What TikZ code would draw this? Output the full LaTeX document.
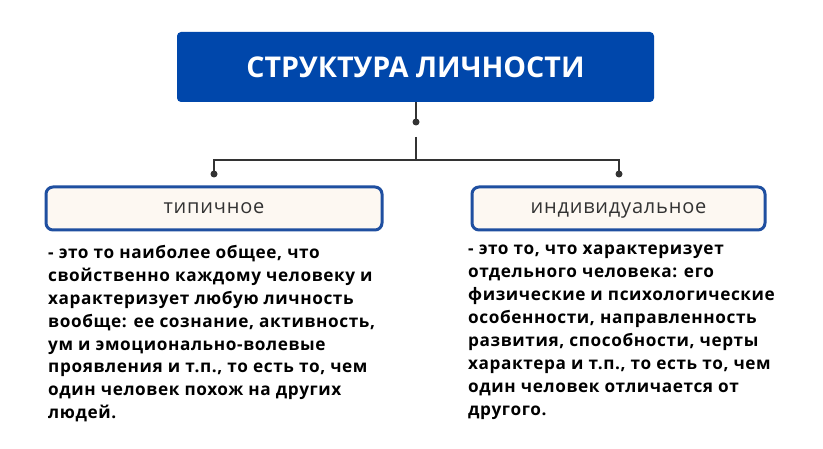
\documentclass[tikz,border=0pt]{standalone}
\usepackage{fontspec}
\setmainfont{Open Sans}
\newfontfamily\bodyfont[LetterSpace=3.5]{Open Sans}
\newfontfamily\labelfont[LetterSpace=4]{Open Sans}
\definecolor{titleblue}{HTML}{0047AB}
\definecolor{boxblue}{HTML}{1F4FA0}
\definecolor{cream}{HTML}{FDF8F2}
\definecolor{linegray}{HTML}{333333}
\definecolor{labelgray}{HTML}{333333}
\tikzset{
  titlebox/.style={fill=titleblue, draw=none, rounded corners=4pt, minimum width=477pt, minimum height=70pt, inner sep=0pt, text=white, font=\fontsize{28.6}{30}\selectfont\bfseries},
  catbox/.style={fill=cream, draw=boxblue, line width=3pt, rounded corners=7pt, minimum height=43pt, inner sep=0pt, text height=14pt, text depth=4pt, text=labelgray, font=\labelfont\fontsize{20}{22}\selectfont},
  bodytext/.style={anchor=north west, inner sep=0pt, align=left, font=\bodyfont\fontsize{17.2}{22.9}\selectfont\bfseries, text=black},
  conn/.style={draw=linegray, line width=1.6pt},
  dot/.style={circle, fill=linegray, inner sep=0pt, minimum size=7pt}
}
\begin{document}
\begin{tikzpicture}[x=1pt,y=-1pt]
\useasboundingbox (0,0) rectangle (823,449);
\fill[white] (0,0) rectangle (823,449);
\node[titlebox] (title) at (415.5,67) {СТРУКТУРА ЛИЧНОСТИ};
\node[catbox, minimum width=336pt] (typ) at (214,208.5) {типичное};
\node[catbox, minimum width=293pt] (ind) at (618.5,208.5) {индивидуальное};
\node[dot] (d0) at (416,122) {};
\coordinate (c0) at (416,137);
\coordinate (h) at (416,160);
\coordinate (hl) at (214,160);
\coordinate (hr) at (619,160);
\node[dot] (dl) at (214,174) {};
\node[dot] (dr) at (619,174) {};
\draw[conn] (title.south -| d0) -- (d0.center);
\draw[conn] (c0) -- (h) -- (hl) -- (dl.center);
\draw[conn] (h) -- (hr) -- (dr.center);
\node[bodytext] (tl) at (48,245) {- это то наиболее общее, что\\свойственно каждому человеку и\\характеризует любую личность\\вообще: ее сознание, активность,\\ум и эмоционально-волевые\\проявления и т.п., то есть то, чем\\один человек похож на других\\людей.};
\node[bodytext] (tr) at (468,245) {- это то, что характеризует\\отдельного человека: его\\физические и психологические\\особенности, направленность\\развития, способности, черты\\характера и т.п., то есть то, чем\\один человек отличается от\\другого.};
\end{tikzpicture}
\end{document}
